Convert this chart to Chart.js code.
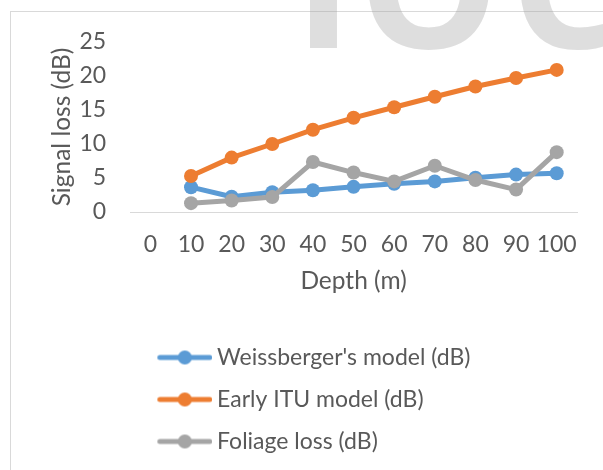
<!DOCTYPE html>
<html lang="en">
<head>
  <meta charset="UTF-8">
  <title>Signal loss vs depth</title>
  <style>
    html, body {
      margin: 0;
      padding: 0;
      background: #fff;
      overflow: hidden;
    }
    .frame {
      position: absolute;
      left: 10px;
      top: 11px;
      width: 700px;
      height: 600px;
      border-left: 1px solid #d9d9d9;
      border-top: 1px solid #d9d9d9;
    }
    .chart-box {
      position: absolute;
      left: 0;
      top: 0;
      width: 603px;
      height: 470px;
    }
  </style>
</head>
<body>
  <div class="frame"></div>
  <div class="chart-box"><canvas id="lossChart"></canvas></div>

  <script src="https://cdn.jsdelivr.net/npm/chart.js"></script>
  <script>
    // values
    const depthLabels = ['0', '10', '20', '30', '40', '50', '60', '70', '80', '90', '100'];
    const weissberger = [null, 3.65, 2.25, 2.9, 3.2, 3.7, 4.15, 4.5, 5.05, 5.5, 5.7];
    const earlyItu = [null, 5.3, 8.0, 10.0, 12.1, 13.85, 15.4, 16.95, 18.45, 19.7, 20.9];
    const foliage = [null, 1.3, 1.7, 2.2, 7.35, 5.8, 4.5, 6.8, 4.7, 3.3, 8.8];
    const yMin = 0, yMax = 25, yStep = 5;

    const FONT = 'Lato';
    const FONT_SIZE = 23;
    const TITLE_SIZE = 24.5;
    const TEXT = '#595959';

    // line + dot marker for the legend
    function legendIcon(color) {
      const c = document.createElement('canvas');
      c.width = 70;
      c.height = 16;
      const g = c.getContext('2d');
      g.strokeStyle = color;
      g.lineWidth = 5;
      g.lineCap = 'round';
      g.beginPath();
      g.moveTo(17.5, 8);
      g.lineTo(67.5, 8);
      g.stroke();
      g.fillStyle = color;
      g.beginPath();
      g.arc(42.5, 8, 7, 0, Math.PI * 2);
      g.fill();
      return c;
    }

    // faint letters at the top of the picture
    const watermark = {
      id: 'watermark',
      afterDraw(chart) {
        const ctx = chart.ctx;
        ctx.save();
        ctx.font = 'bold 178px "Open Sans"';
        ctx.fillStyle = 'rgba(160, 160, 160, 0.35)';
        ctx.textBaseline = 'alphabetic';
        [['I', 310], ['O', 368], ['C', 520]].forEach(([ch, left]) => {
          const m = ctx.measureText(ch);
          ctx.fillText(ch, left + m.actualBoundingBoxLeft, 48);
        });
        ctx.restore();
      }
    };

    function series(label, data, color, order) {
      return {
        label: label,
        data: data,
        borderColor: color,
        backgroundColor: color,
        borderWidth: 5,
        borderCapStyle: 'round',
        borderJoinStyle: 'round',
        pointRadius: 7,
        pointBorderWidth: 0,
        pointBackgroundColor: color,
        pointHoverRadius: 7,
        tension: 0,
        order: order,
        icon: legendIcon(color)
      };
    }

    const ctx = document.getElementById('lossChart').getContext('2d');
    const lossChart = new Chart(ctx, {
      type: 'line',
      data: {
        labels: depthLabels,
        datasets: [
          series("Weissberger's model (dB)", weissberger, '#5b9bd5', 3),
          series('Early ITU model (dB)', earlyItu, '#ed7d31', 2),
          series('Foliage loss (dB)', foliage, '#a5a5a5', 1)
        ]
      },
      plugins: [watermark],
      options: {
        responsive: true,
        maintainAspectRatio: false,
        animation: false,
        layout: {
          padding: { top: 42, right: 26, bottom: 7, left: 0 }
        },
        scales: {
          x: {
            offset: true,
            // grid lines hidden; tickLength only spaces the labels from the axis
            grid: { display: false, drawTicks: true, tickLength: 19 },
            border: { display: true, color: '#d9d9d9', width: 1 },
            ticks: {
              padding: 0,
              autoSkip: false,
              maxRotation: 0,
              minRotation: 0,
              color: TEXT,
              font: { family: FONT, size: FONT_SIZE }
            },
            title: {
              display: true,
              text: 'Depth (m)',
              color: TEXT,
              font: { family: FONT, size: TITLE_SIZE },
              padding: { top: 8, bottom: 31 }
            }
          },
          y: {
            min: yMin,
            max: yMax,
            grid: { display: false, drawTicks: true, tickLength: 24 },
            border: { display: false },
            ticks: {
              stepSize: yStep,
              autoSkip: false,
              padding: 0,
              color: TEXT,
              font: { family: FONT, size: FONT_SIZE }
            },
            title: {
              display: true,
              text: 'Signal loss (dB)',
              color: TEXT,
              font: { family: FONT, size: TITLE_SIZE },
              padding: { top: 47, bottom: 3 }
            }
          }
        },
        plugins: {
          tooltip: { enabled: false },
          legend: {
            position: 'bottom',
            align: 'start',
            fullSize: false,
            labels: {
              usePointStyle: true,
              pointStyleWidth: 56.5,
              padding: 19,
              color: TEXT,
              font: { family: FONT, size: FONT_SIZE },
              generateLabels(chart) {
                const items = Chart.defaults.plugins.legend.labels.generateLabels(chart);
                items.forEach(it => {
                  it.pointStyle = chart.data.datasets[it.datasetIndex].icon;
                });
                return items.sort((a, b) => a.datasetIndex - b.datasetIndex);
              }
            }
          }
        }
      }
    });
  </script>
</body>
</html>
